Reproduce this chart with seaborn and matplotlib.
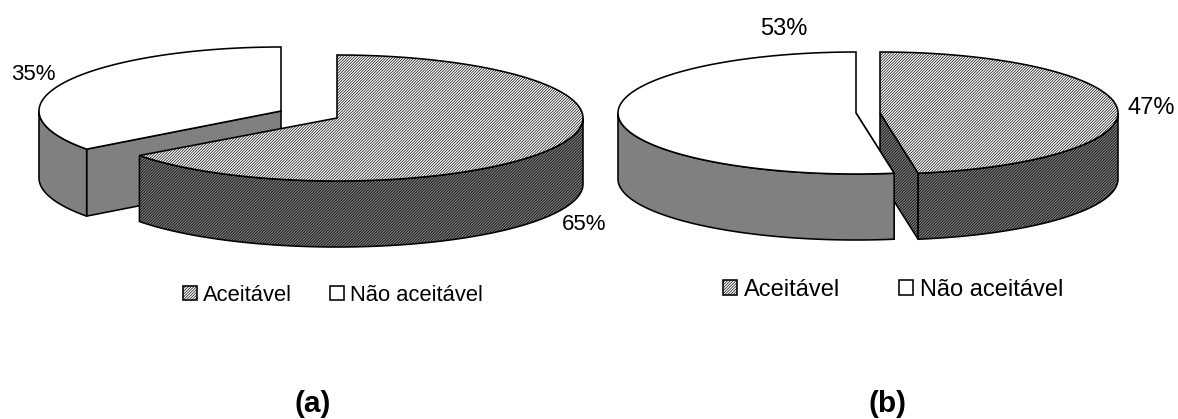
import numpy as np
import matplotlib
matplotlib.use("Agg")
import matplotlib.pyplot as plt
from matplotlib.patches import Polygon, Patch
import seaborn as sns

# Shares of respondents per category, one list per panel
categories = ["Aceitável", "Não aceitável"]
shares_a = [65, 35]
shares_b = [47, 53]
panel_titles = ["(a)", "(b)"]

sns.set_theme(style="white", font="Liberation Sans")
plt.rcParams["hatch.linewidth"] = 0.48

DENSE = "/" * 12
EDGE = 1.15
FILL_TOP = dict(facecolor="white", hatch=DENSE, edgecolor="black", linewidth=EDGE)
FILL_SIDE = dict(facecolor="#7a7a7a", hatch=DENSE, edgecolor="black", linewidth=EDGE)
PLAIN_TOP = dict(facecolor="white", edgecolor="black", linewidth=EDGE)
PLAIN_SIDE = dict(facecolor="#808080", edgecolor="black", linewidth=EDGE)


def rim(apex, rx, ry, start, stop):
    """Points on the elliptical rim, angles in degrees clockwise from 12 o'clock."""
    t = np.radians(np.linspace(start, stop, max(int(abs(stop - start)) * 2, 2)))
    return np.column_stack([apex[0] + rx * np.sin(t), apex[1] - ry * np.cos(t)])


def view_angle(share, foreshorten):
    """Rim angle of a cumulative share, with the tilt's slight angular distortion."""
    a = share * 3.6
    return a - foreshorten * np.sin(np.radians(2 * a))


def wedge_3d(ax, apex, rx, ry, depth, start, stop, top, side):
    """Draw one extruded slice: visible walls first, then the top face."""
    down = np.array([0, depth])
    # inner wall along a radius that faces the viewer
    edge_pts = []
    if 90 < start < 180 or 180 < start < 270:
        edge_pts.append(start)
    if 90 < stop < 180:
        edge_pts.append(stop)
    for a in edge_pts:
        p = rim(apex, rx, ry, a, a + 1e-6)[0]
        wall = np.array([apex, p, p + down, np.array(apex) + down])
        ax.add_patch(Polygon(wall, closed=True, **side))
    # outer wall: the part of the rim on the front half of the ellipse
    lo, hi = max(start, 90), min(stop, 270)
    if hi > lo:
        arc = rim(apex, rx, ry, lo, hi)
        ax.add_patch(Polygon(np.vstack([arc, arc[::-1] + down]), closed=True, **side))
    ax.add_patch(Polygon(np.vstack([[apex], rim(apex, rx, ry, start, stop)]), closed=True, **top))


def add_legend(ax, anchor, fontsize, swatch_em, pad, spacing):
    handles = [Patch(**FILL_TOP), Patch(**PLAIN_TOP)]
    leg = ax.legend(handles, categories, loc="center left", bbox_to_anchor=anchor,
                    bbox_transform=ax.transData, ncol=2, frameon=False, fontsize=fontsize,
                    handlelength=swatch_em, handleheight=swatch_em, handletextpad=pad,
                    columnspacing=spacing, borderpad=0, borderaxespad=0,
                    labelcolor="black")
    ax.add_artist(leg)
    ax.legend_ = None  # kept as a plain artist so it is drawn only once


fig = plt.figure(figsize=(11.78, 4.19), dpi=100, facecolor="white")
ax = fig.add_axes([0, 0, 1, 1])
ax.set_xlim(0, 1178)
ax.set_ylim(419, 0)
ax.set_axis_off()
sns.despine(ax=ax, left=True, bottom=True)

# Panel (a): the smaller slice sits behind, the larger one is pulled forward
split_a = view_angle(shares_a[0], 0.6)
wedge_3d(ax, (281, 111), 242, 64, 67, split_a, 360, PLAIN_TOP, PLAIN_SIDE)
wedge_3d(ax, (337, 118), 246, 63, 66, 0, split_a, FILL_TOP, FILL_SIDE)

# Panel (b): the non-acceptable slice overlaps the other one's inner wall
split_b = view_angle(shares_b[0], 4.3)
wedge_3d(ax, (880, 113), 238, 61, 66, 0, split_b, FILL_TOP, FILL_SIDE)
wedge_3d(ax, (856, 113), 238, 61, 66, split_b, 360, PLAIN_TOP, PLAIN_SIDE)

# Percentage labels
ax.text(33, 75, f"{shares_a[1]}%", ha="center", va="center", fontsize=16, color="black")
ax.text(584, 224, f"{shares_a[0]}%", ha="center", va="center", fontsize=16, color="black")
ax.text(784, 29, f"{shares_b[1]}%", ha="center", va="center", fontsize=17, color="black")
ax.text(1151, 108, f"{shares_b[0]}%", ha="center", va="center", fontsize=17, color="black")

add_legend(ax, (183, 295), 15.85, 0.63, 0.27, 1.75)
add_legend(ax, (723, 290), 17, 0.6, 0.28, 2.5)

# Panel captions
ax.text(313, 404, panel_titles[0], ha="center", va="center", fontsize=21.5, fontweight="bold", color="black")
ax.text(887, 404, panel_titles[1], ha="center", va="center", fontsize=21.5, fontweight="bold", color="black")

fig.savefig("out.png", dpi=100, facecolor="white")
